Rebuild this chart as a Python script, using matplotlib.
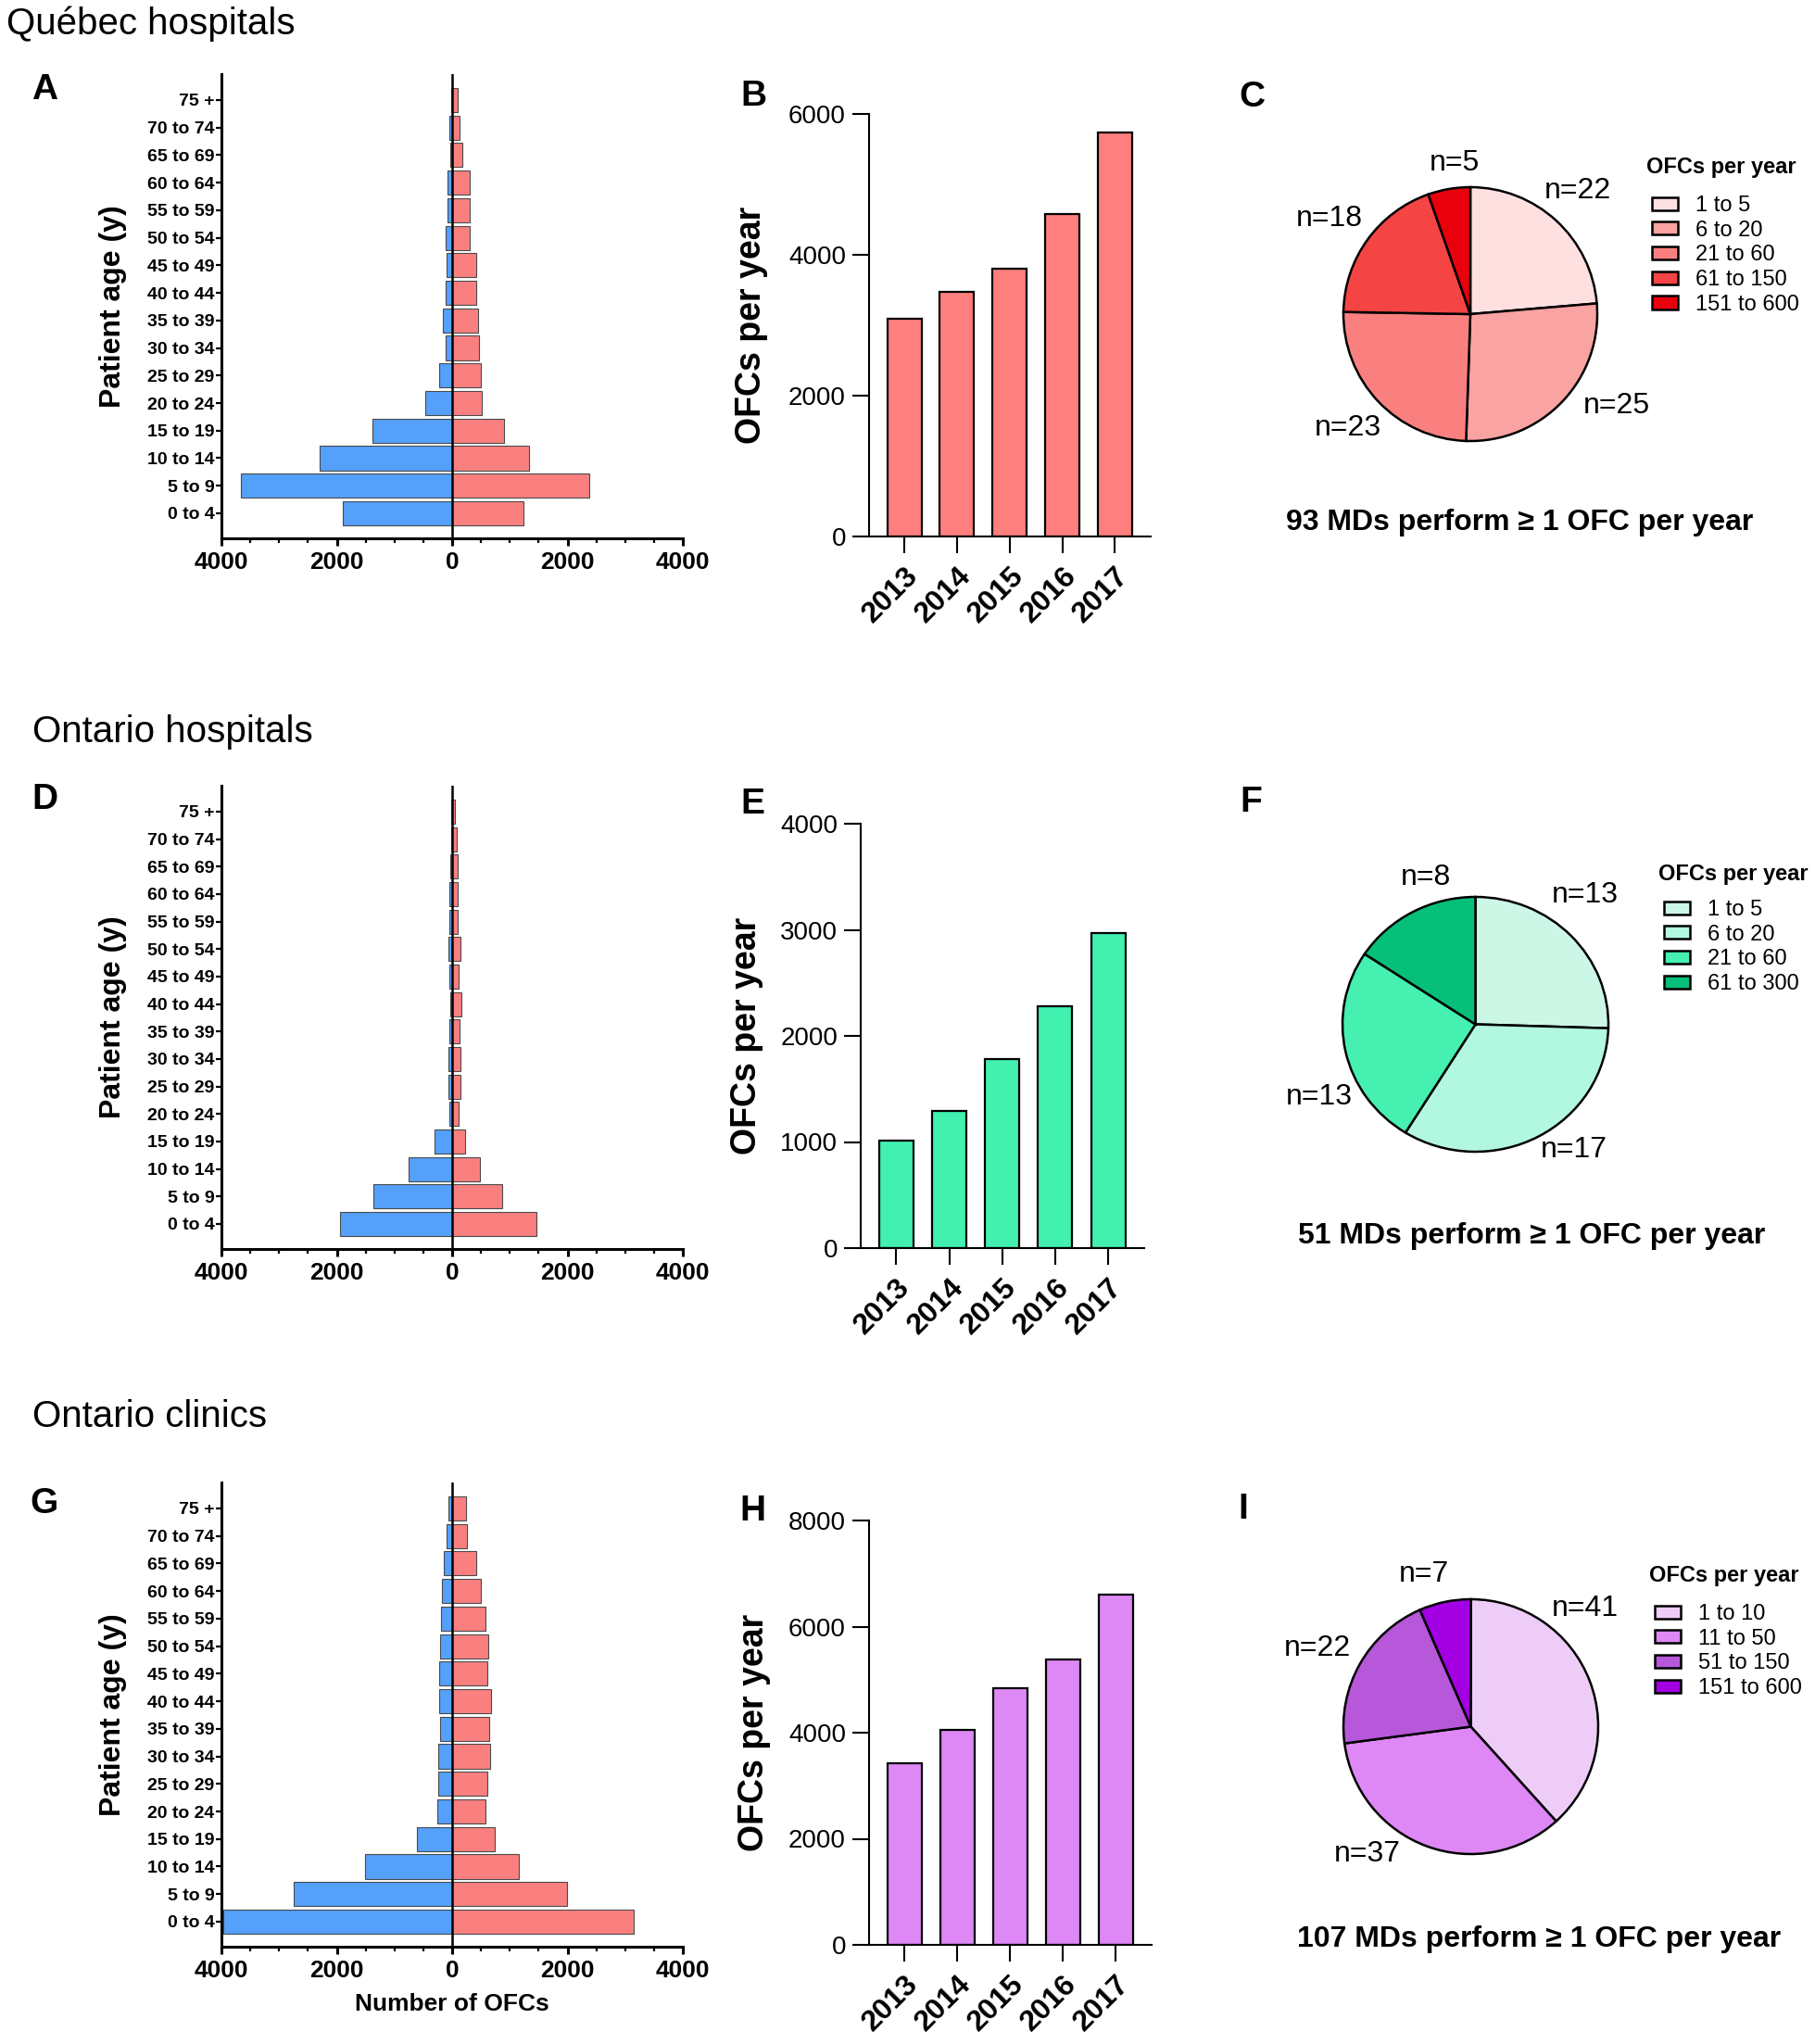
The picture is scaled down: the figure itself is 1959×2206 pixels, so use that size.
import numpy as np
import matplotlib.pyplot as plt
from matplotlib.ticker import MultipleLocator, FuncFormatter

# ---- data ----
age_groups = ['0 to 4', '5 to 9', '10 to 14', '15 to 19', '20 to 24', '25 to 29',
              '30 to 34', '35 to 39', '40 to 44', '45 to 49', '50 to 54', '55 to 59',
              '60 to 64', '65 to 69', '70 to 74', '75 +']
years = ['2013', '2014', '2015', '2016', '2017']

# Québec hospitals
qc_left = [1900, 3660, 2290, 1380, 470, 220, 120, 160, 110, 100, 110, 80, 80, 30, 50, 20]
qc_right = [1240, 2380, 1330, 900, 520, 490, 460, 450, 420, 410, 310, 310, 300, 180, 130, 100]
qc_years = [3086, 3473, 3806, 4581, 5731]
qc_pie = [22, 25, 23, 18, 5]
qc_pie_cats = ['1 to 5', '6 to 20', '21 to 60', '61 to 150', '151 to 600']
qc_md = 93

# Ontario hospitals
onh_left = [1940, 1370, 760, 300, 55, 70, 70, 55, 40, 55, 70, 55, 55, 40, 20, 20]
onh_right = [1455, 870, 480, 225, 120, 145, 145, 130, 160, 120, 145, 100, 90, 100, 80, 45]
onh_years = [1009, 1291, 1786, 2278, 2973]
onh_pie = [13, 17, 13, 8]
onh_pie_cats = ['1 to 5', '6 to 20', '21 to 60', '61 to 300']
onh_md = 51

# Ontario clinics
onc_left = [3960, 2740, 1505, 610, 265, 240, 240, 210, 225, 225, 210, 185, 170, 150, 95, 65]
onc_right = [3145, 1985, 1150, 735, 585, 610, 665, 640, 680, 610, 625, 585, 505, 410, 255, 240]
onc_years = [3419, 4057, 4835, 5373, 6598]
onc_pie = [41, 37, 22, 7]
onc_pie_cats = ['1 to 10', '11 to 50', '51 to 150', '151 to 600']
onc_md = 107

# ---- style ----
W, H = 1959, 2206
plt.rcParams['font.family'] = ['Liberation Sans', 'DejaVu Sans']

blue = '#55A0FA'
red = '#FA8080'


def box(l, t, r, b):
    # pixel box (left, top, right, bottom) -> figure fraction
    return [l / W, 1 - b / H, (r - l) / W, (b - t) / H]


def ftext(x, y, s, **kw):
    fig.text(x / W, 1 - y / H, s, **kw)


def pyramid(rect, left, right, xlabel=None):
    ax = fig.add_axes(box(*rect))
    y = np.arange(len(age_groups))
    ax.barh(y, -np.array(left), height=0.88, color=blue, edgecolor='#4a4a4a', linewidth=0.8)
    ax.barh(y, right, height=0.88, color=red, edgecolor='#4a4a4a', linewidth=0.8)
    ax.axvline(0, color='black', linewidth=1.8)
    ax.set_xlim(-4000, 4000)
    ax.set_ylim(-0.91, 15.94)
    ax.set_yticks(y)
    ax.set_yticklabels(age_groups, fontweight='bold', fontsize=14)
    ax.xaxis.set_major_locator(MultipleLocator(2000))
    ax.xaxis.set_minor_locator(MultipleLocator(500))
    ax.xaxis.set_major_formatter(FuncFormatter(lambda v, p: f'{abs(int(v))}'))
    for lab in ax.get_xticklabels():
        lab.set_fontweight('bold')
        lab.set_fontsize(19)
    ax.tick_params(axis='x', which='major', length=6, width=2.2, pad=4)
    ax.tick_params(axis='x', which='minor', length=3.5, width=1.6)
    ax.tick_params(axis='y', length=4.5, width=1.6, pad=1)
    for s in ['top', 'right']:
        ax.spines[s].set_visible(False)
    for s in ['left', 'bottom']:
        ax.spines[s].set_linewidth(2.2)
    ax.set_ylabel('Patient age (y)', fontsize=23, fontweight='bold')
    ax.yaxis.set_label_coords(-0.205, 0.5)
    if xlabel:
        ax.set_xlabel(xlabel, fontweight='bold', fontsize=19, labelpad=9)
    return ax


def yearbars(rect, vals, color, ymax, step, label_x):
    ax = fig.add_axes(box(*rect))
    x = np.arange(len(years))
    ax.bar(x, vals, width=0.65, color=color, edgecolor='black', linewidth=1.6)
    ax.set_xlim(-0.67, 4.68)
    ax.set_ylim(0, ymax)
    ax.set_yticks(np.arange(0, ymax + 1, step))
    ax.set_xticks(x)
    ax.set_xticklabels(years, rotation=45, ha='right', rotation_mode='anchor',
                       fontweight='bold', fontsize=23)
    ax.tick_params(axis='y', length=13, width=1.5, labelsize=20, pad=5)
    ax.tick_params(axis='x', length=13, width=1.5, pad=7)
    for s in ['top', 'right']:
        ax.spines[s].set_visible(False)
    for s in ['left', 'bottom']:
        ax.spines[s].set_linewidth(1.5)
    ax.set_ylabel('OFCs per year', fontsize=27, fontweight='bold')
    ax.yaxis.set_label_coords(label_x, 0.5)
    return ax


def pie(rect, vals, cats, colors, md, label_angles, label_radii, cap_xy, title_xy, leg_y0):
    ax = fig.add_axes(box(*rect))
    wedges, _ = ax.pie(vals, colors=colors, startangle=90, counterclock=False,
                       wedgeprops=dict(edgecolor='black', linewidth=1.8))
    for w in wedges:
        w.set_clip_on(False)
    ax.set_aspect('auto')
    ax.set_xlim(-1, 1)
    ax.set_ylim(-1, 1)
    for v, a, r in zip(vals, label_angles, label_radii):
        ax.text(r * np.cos(np.radians(a)), r * np.sin(np.radians(a)), f'n={v}',
                fontsize=23, ha='center', va='center')
    ftext(title_xy[0], title_xy[1], 'OFCs per year', fontsize=17, fontweight='bold',
          va='center')
    ax.legend(wedges, cats, loc='upper left',
              bbox_to_anchor=((title_xy[0] + 6) / W, 1 - (leg_y0 - 8) / H),
              bbox_transform=fig.transFigure, frameon=False,
              fontsize=17, handlelength=1.2, handleheight=0.55,
              labelspacing=0.2, handletextpad=0.8, borderpad=0, borderaxespad=0)
    ftext(cap_xy[0], cap_xy[1], f'{md} MDs perform \u2265 1 OFC per year',
          fontweight='bold', fontsize=23, ha='center', va='center')
    return ax


fig = plt.figure(figsize=(W / 100, H / 100), dpi=100)

# section titles
ftext(7, 26, 'Québec hospitals', fontsize=29, va='center')
ftext(35, 790, 'Ontario hospitals', fontsize=29, va='center')
ftext(35, 1529, 'Ontario clinics', fontsize=29, va='center')

# panel letters
for letter, x, y in [('A', 48, 97), ('B', 813, 104), ('C', 1351, 105),
                     ('D', 48, 863), ('E', 812, 868), ('F', 1350, 866),
                     ('G', 48, 1623), ('H', 812, 1631), ('I', 1342, 1629)]:
    ftext(x, y, letter, fontsize=28, fontweight='bold', ha='center', va='center')

# row 1: Québec hospitals
pyramid((239, 80, 737, 581), qc_left, qc_right)
yearbars((938, 123, 1242, 579), qc_years, '#FF7F7F', 6000, 2000, -0.36)
pie((1450, 202, 1724, 476), qc_pie, qc_pie_cats,
    ['#FEE0E0', '#F9A3A3', '#FA8080', '#F44444', '#E8000D'], qc_md,
    [49, -32, -137, 146, 96], [1.29, 1.36, 1.32, 1.34, 1.2],
    (1640, 564), (1777, 181), 219)

# row 2: Ontario hospitals
pyramid((239, 848, 737, 1348), onh_left, onh_right)
yearbars((929, 889, 1235, 1347), onh_years, '#42F0B0', 4000, 1000, -0.343)
pie((1449, 968, 1736, 1243), onh_pie, onh_pie_cats,
    ['#CCF7E6', '#B2F7DF', '#45F0B0', '#06C07A'], onh_md,
    [51, -53, -154, 108], [1.31, 1.23, 1.31, 1.21],
    (1653, 1334), (1790, 943), 979)

# row 3: Ontario clinics
pyramid((239, 1600, 737, 2101), onc_left, onc_right, xlabel='Number of OFCs')
yearbars((938, 1641, 1243, 2099), onc_years, '#DD88F5', 8000, 2000, -0.348)
pie((1450, 1726, 1725, 2001), onc_pie, onc_pie_cats,
    ['#EECCF8', '#DD88F5', '#B757D9', '#A200E3'], onc_md,
    [46, -129, 153, 107], [1.29, 1.29, 1.35, 1.25],
    (1661, 2093), (1780, 1701), 1739)

fig.savefig('out.png', dpi=100)
